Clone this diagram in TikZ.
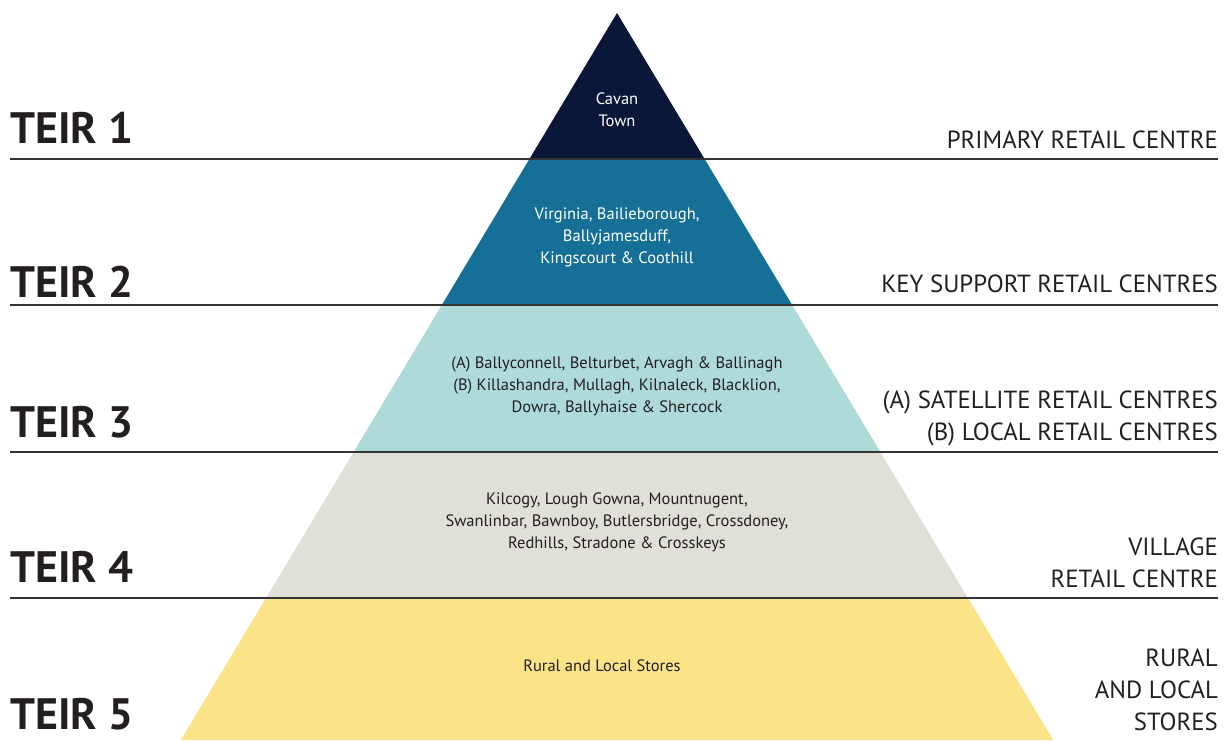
\documentclass[tikz,border=0pt]{standalone}
\usepackage{fontspec}
\setmainfont{PT Sans}
\definecolor{tA}{HTML}{0B1739}
\definecolor{tB}{HTML}{166F96}
\definecolor{tC}{HTML}{AEDADA}
\definecolor{tD}{HTML}{E0E0D8}
\definecolor{tE}{HTML}{FBE388}
\definecolor{ink}{HTML}{231F20}
\definecolor{rule}{HTML}{333333}
\tikzset{
  tierlbl/.style={anchor=base west, inner sep=0pt, font=\fontsize{44}{44}\selectfont\bfseries, text=ink},
  catlbl/.style={anchor=base east, inner sep=0pt, align=right, font=\fontsize{24.8}{32}\selectfont, text=ink},
  inlbl/.style={anchor=center, inner sep=0pt, align=center, font=\fontsize{16.5}{22}\selectfont},
  sepline/.style={draw=rule, line width=2pt},
}
\begin{document}
\begin{tikzpicture}[x=1pt,y=-1pt]
\useasboundingbox (0,0) rectangle (1228,740);
% pyramid bands
\fill[tA] (617,13) -- (704.6,159) -- (529.4,159) -- cycle;
\fill[tB] (529.4,159) -- (704.6,159) -- (792.2,305) -- (441.8,305) -- cycle;
\fill[tC] (441.8,305) -- (792.2,305) -- (880.4,452) -- (353.6,452) -- cycle;
\fill[tD] (353.6,452) -- (880.4,452) -- (968,598) -- (266,598) -- cycle;
\fill[tE] (266,598) -- (968,598) -- (1053.2,740) -- (180.8,740) -- cycle;
% separator lines
\coordinate (l1a) at (10,159); \coordinate (l1b) at (1218,159);
\coordinate (l2a) at (10,305); \coordinate (l2b) at (1218,305);
\coordinate (l3a) at (10,452); \coordinate (l3b) at (1218,452);
\coordinate (l4a) at (10,598); \coordinate (l4b) at (1218,598);
\draw[sepline] (l1a) -- (l1b);
\draw[sepline] (l2a) -- (l2b);
\draw[sepline] (l3a) -- (l3b);
\draw[sepline] (l4a) -- (l4b);
% tier labels
\node[tierlbl] (t1) at (10,143) {TEIR 1};
\node[tierlbl] (t2) at (10,297) {TEIR 2};
\node[tierlbl] (t3) at (10,437) {TEIR 3};
\node[tierlbl] (t4) at (10,582) {TEIR 4};
\node[tierlbl] (t5) at (10,729) {TEIR 5};
% category labels
\node[catlbl] (c1) at (1218,148) {PRIMARY RETAIL CENTRE};
\node[catlbl] (c2) at (1218,292) {KEY SUPPORT RETAIL CENTRES};
\node[catlbl] (c3) at (1218,440) {(A) SATELLITE RETAIL CENTRES\\(B) LOCAL RETAIL CENTRES};
\node[catlbl] (c4) at (1218,587) {VILLAGE\\RETAIL CENTRE};
\node[catlbl] (c5) at (1218,730) {RURAL\\AND LOCAL\\STORES};
% inner texts
\node[inlbl, text=white] (p1) at (617,110) {Cavan\\Town};
\node[inlbl, text=white] (p2) at (617,237) {Virginia, Bailieborough,\\Ballyjamesduff,\\Kingscourt \& Coothill};
\node[inlbl, text=ink] (p3) at (617,386) {(A) Ballyconnell, Belturbet, Arvagh \& Ballinagh\\(B) Killashandra, Mullagh, Kilnaleck, Blacklion,\\Dowra, Ballyhaise \& Shercock};
\node[inlbl, text=ink] (p4) at (617,522) {Kilcogy, Lough Gowna, Mountnugent,\\Swanlinbar, Bawnboy, Butlersbridge, Crossdoney,\\Redhills, Stradone \& Crosskeys};
\node[inlbl, text=ink] (p5) at (602,666) {Rural and Local Stores};
\end{tikzpicture}
\end{document}
